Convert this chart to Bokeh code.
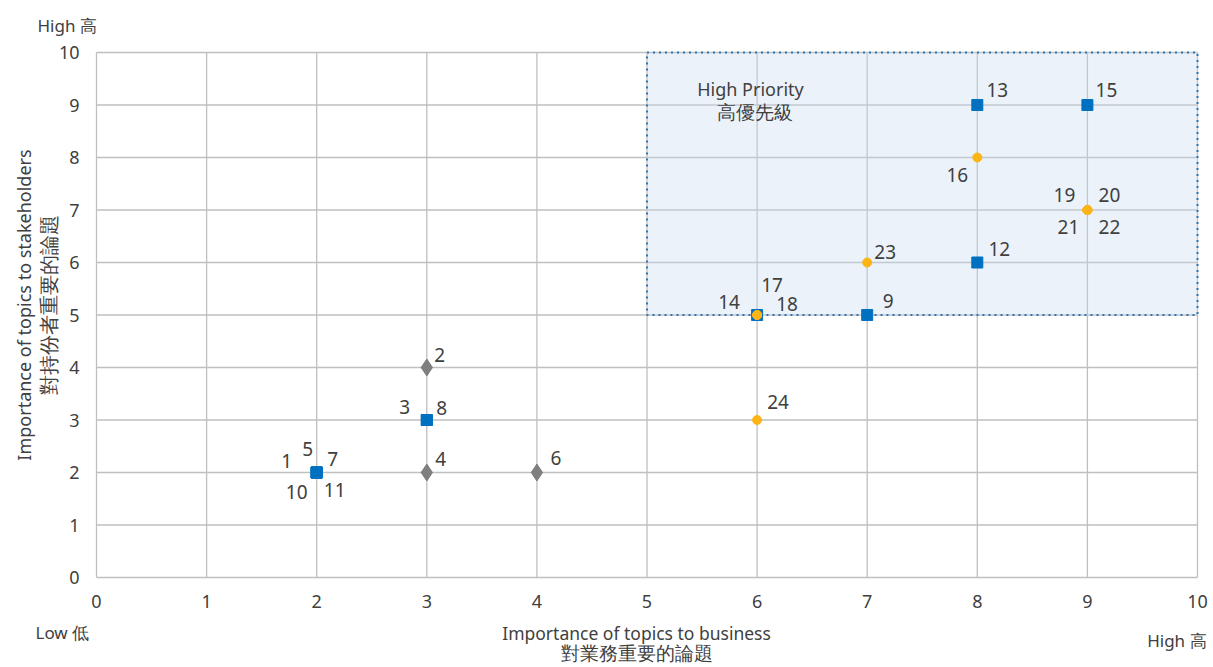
import math
from bokeh.plotting import figure
from bokeh.models import ColumnDataSource, Label, FixedTicker
from bokeh.core.properties import value
from bokeh.embed import file_html
from bokeh.resources import INLINE

# ---- data ----
topic_id = [str(i) for i in range(1, 25)]
business = [2, 3, 3, 3, 2, 4, 2, 3, 7, 2, 2, 8, 8, 6, 9, 8, 6, 6, 9, 9, 9, 9, 7, 6]
stakeholders = [2, 4, 3, 2, 2, 2, 2, 3, 5, 2, 2, 6, 9, 5, 9, 8, 5, 5, 7, 7, 7, 7, 6, 3]
category = ["blue", "gray", "blue", "gray", "blue", "gray", "blue", "blue", "blue", "blue",
            "blue", "blue", "blue", "blue", "blue", "orange", "orange", "orange", "orange",
            "orange", "orange", "orange", "orange", "orange"]
ticks = list(range(0, 11))
priority_zone = [5, 10, 5, 10]  # left, right, bottom, top

# ---- label placement (screen px, y down) ----
label_dx = [-30, 13, -22, 14, -9, 19, 16, 15, 21, -20, 18, 22, 20, -28, 19, -20, 15, 30, -23, 22, -19, 22, 18, 21]
label_dy = [-12, -13, -13, -14, -24, -15, -14, -12, -14, 19, 17, -14, -15, -13, -15, 17, -30, -11, -15, -15, 17, 17, -11, -18]

FONT = "Noto Sans"
TXT = "#404040"
GRID = "#BFBFBF"

W, H = 1212, 666
PX_X, PX_Y = 110.1, 52.5        # pixels per unit
LEFT, BOTTOM = 96, 577          # frame position of the (0,0) origin
x_rng = (-LEFT / PX_X, (W - LEFT) / PX_X)
y_rng = (-(H - BOTTOM) / PX_Y, BOTTOM / PX_Y)

p = figure(width=W, height=H, x_range=x_rng, y_range=y_rng,
           output_backend="svg", toolbar_location=None,
           min_border=0)
p.outline_line_color = None
p.background_fill_color = "white"
p.border_fill_color = "white"
p.xgrid.visible = False
p.ygrid.visible = False

for ax in (p.xaxis, p.yaxis):
    ax.ticker = FixedTicker(ticks=ticks)
    ax.fixed_location = 0
    ax.axis_line_color = None
    ax.major_tick_line_color = None
    ax.minor_tick_line_color = None
    ax.major_tick_out = 0
    ax.major_tick_in = 0
    ax.major_label_text_font = FONT
    ax.major_label_text_font_size = "18px"
    ax.major_label_text_color = TXT
p.xaxis.major_label_standoff = 17
p.yaxis.major_label_standoff = 17

# grid lines built from the tick values
t0, t1 = ticks[0], ticks[-1]
p.segment(x0=ticks, y0=[t0] * len(ticks), x1=ticks, y1=[t1] * len(ticks), line_color=GRID, line_width=1.3)
p.segment(x0=[t0] * len(ticks), y0=ticks, x1=[t1] * len(ticks), y1=ticks, line_color=GRID, line_width=1.3)

# priority zone
zl, zr, zb, zt = priority_zone
p.quad(left=[zl], right=[zr], bottom=[zb], top=[zt], fill_color="#C5DAF0", fill_alpha=0.35, line_color=None)
p.quad(left=[zl], right=[zr], bottom=[zb], top=[zt], fill_color=None, line_color="#2E75B6",
       line_width=2, line_dash="2 4")

src = ColumnDataSource(dict(x=business, y=stakeholders, t=topic_id, c=category, dx=label_dx, dy=label_dy))

def sub(cat):
    idx = [i for i, c in enumerate(category) if c == cat]
    return ColumnDataSource(dict(x=[business[i] for i in idx], y=[stakeholders[i] for i in idx]))

p.scatter("x", "y", source=sub("gray"), marker="diamond", size=17, fill_color="#7F7F7F", line_color="#7F7F7F")
p.scatter("x", "y", source=sub("blue"), marker="square", size=11, fill_color="#0070C0", line_color="#0070C0")
p.scatter("x", "y", source=sub("orange"), marker="circle", size=9, fill_color="#FDB515", line_color="#FDB515")

p.text("x", "y", text="t", source=src, x_offset="dx", y_offset="dy",
       text_align="center", text_baseline="middle", text_font=value(FONT),
       text_font_size="19px", text_color=TXT)

def lab(x, y, text, align="center", angle=0, size="17px"):
    p.add_layout(Label(x=x, y=y, text=text, text_align=align, text_baseline="middle",
                       angle=angle, text_font=FONT, text_font_size=size, text_color=TXT))

lab(5.94, 9.30, "High Priority", size="18px")
lab(5.98, 8.86, "高優先級", size="19px")
lab(-0.536, 10.514, "High 高", align="left")
lab(-0.554, -1.048, "Low 低", align="left")
lab(10.082, -1.20, "High 高", align="right")
lab(4.905, -1.048, "Importance of topics to business", size="17.5px")
lab(4.905, -1.43, "對業務重要的論題", size="19px")
lab(-0.654, 5.19, "Importance of topics to stakeholders", angle=math.pi / 2, size="18px")
lab(-0.434, 5.19, "對持份者重要的論題", angle=math.pi / 2, size="20px")

open("out.html", "w").write(file_html(p, INLINE))
